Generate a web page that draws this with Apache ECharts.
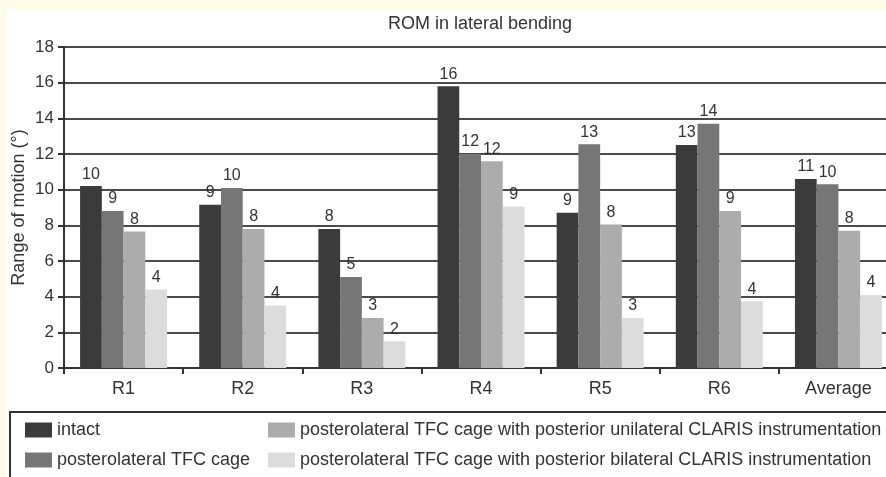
<!DOCTYPE html>
<html>
<head>
<meta charset="utf-8">
<title>ROM in lateral bending</title>
<script src="https://cdn.jsdelivr.net/npm/echarts@6/dist/echarts.min.js"></script>
<style>
  html, body { margin: 0; padding: 0; background: #fffbe7; }
  #chart {
    position: absolute;
    left: 7px;
    top: 10px;
    width: 879px;
    height: 467px;
    background: #fff;
  }
</style>
</head>
<body>
<div id="chart"></div>
<script>
// categories and series values (degrees)
const categories = ['R1', 'R2', 'R3', 'R4', 'R5', 'R6', 'Average'];
const seriesNames = [
  'intact',
  'posterolateral TFC cage',
  'posterolateral TFC cage with posterior unilateral CLARIS instrumentation',
  'posterolateral TFC cage with posterior bilateral CLARIS instrumentation'
];
const intact = [10.2, 9.15, 7.8, 15.8, 8.7, 12.5, 10.6];
const tfcCage = [8.8, 10.1, 5.1, 12.0, 12.55, 13.7, 10.3];
const unilateral = [7.65, 7.8, 2.8, 11.6, 8.05, 8.8, 7.7];
const bilateral = [4.4, 3.5, 1.5, 9.05, 2.8, 3.75, 4.1];
const yTicks = [0, 2, 4, 6, 8, 10, 12, 14, 16, 18];

const colors = ['#3b3b3b', '#767676', '#acacac', '#dcdcdc'];
const font = "'Liberation Sans', Arial, sans-serif";

const chart = echarts.init(document.getElementById('chart'));

const makeBar = (name, data, color) => ({
  name: name,
  type: 'bar',
  data: data,
  barGap: '0%',
  barCategoryGap: '27%',
  itemStyle: { color: color },
  label: {
    show: true,
    position: 'top',
    distance: 4,
    fontFamily: font,
    fontSize: 16,
    color: '#333',
    formatter: p => String(Math.round(p.value))
  }
});

const legendBase = {
  orient: 'vertical',
  top: 411,
  padding: 0,
  itemGap: 12,
  itemWidth: 27,
  itemHeight: 15,
  icon: 'rect',
  textStyle: { fontSize: 18, color: '#333', fontFamily: font }
};

chart.setOption({
  animation: false,
  textStyle: { fontFamily: font },
  title: {
    text: 'ROM in lateral bending',
    left: 381,
    top: 5,
    padding: 0,
    textStyle: { fontSize: 18, fontWeight: 'normal', color: '#333', fontFamily: font }
  },
  grid: {
    left: 57,
    right: -12,
    top: 37,
    bottom: 109,
    containLabel: false,
    outerBoundsMode: 'none'
  },
  legend: [
    Object.assign({}, legendBase, { left: 18, data: [seriesNames[0], seriesNames[1]] }),
    Object.assign({}, legendBase, { left: 261, data: [seriesNames[2], seriesNames[3]] })
  ],
  graphic: [
    {
      type: 'rect',
      shape: { x: 3, y: 402, width: 1000, height: 200 },
      style: { fill: 'none', stroke: '#333', lineWidth: 2 },
      silent: true
    }
  ],
  xAxis: {
    type: 'category',
    data: categories,
    axisLine: { lineStyle: { color: '#333', width: 2 } },
    axisTick: { show: true, length: 6, lineStyle: { color: '#333', width: 2 } },
    axisLabel: { margin: 12, fontSize: 18, color: '#333', fontFamily: font }
  },
  yAxis: {
    type: 'value',
    min: yTicks[0],
    max: yTicks[yTicks.length - 1],
    interval: 2,
    name: 'Range of motion (°)',
    nameLocation: 'middle',
    nameGap: 36,
    nameMoveOverlap: false,
    nameTextStyle: { fontSize: 18, color: '#333', fontFamily: font },
    axisLine: { show: true, lineStyle: { color: '#333', width: 2 } },
    axisTick: { show: true, length: 6, lineStyle: { color: '#333', width: 2 } },
    axisLabel: { margin: 10, fontSize: 17, color: '#333', fontFamily: font },
    splitLine: { show: true, lineStyle: { color: '#4a4a4a', width: 2 } }
  },
  series: [
    makeBar(seriesNames[0], intact, colors[0]),
    makeBar(seriesNames[1], tfcCage, colors[1]),
    makeBar(seriesNames[2], unilateral, colors[2]),
    makeBar(seriesNames[3], bilateral, colors[3])
  ]
});

window.addEventListener('resize', () => chart.resize());
</script>
</body>
</html>
